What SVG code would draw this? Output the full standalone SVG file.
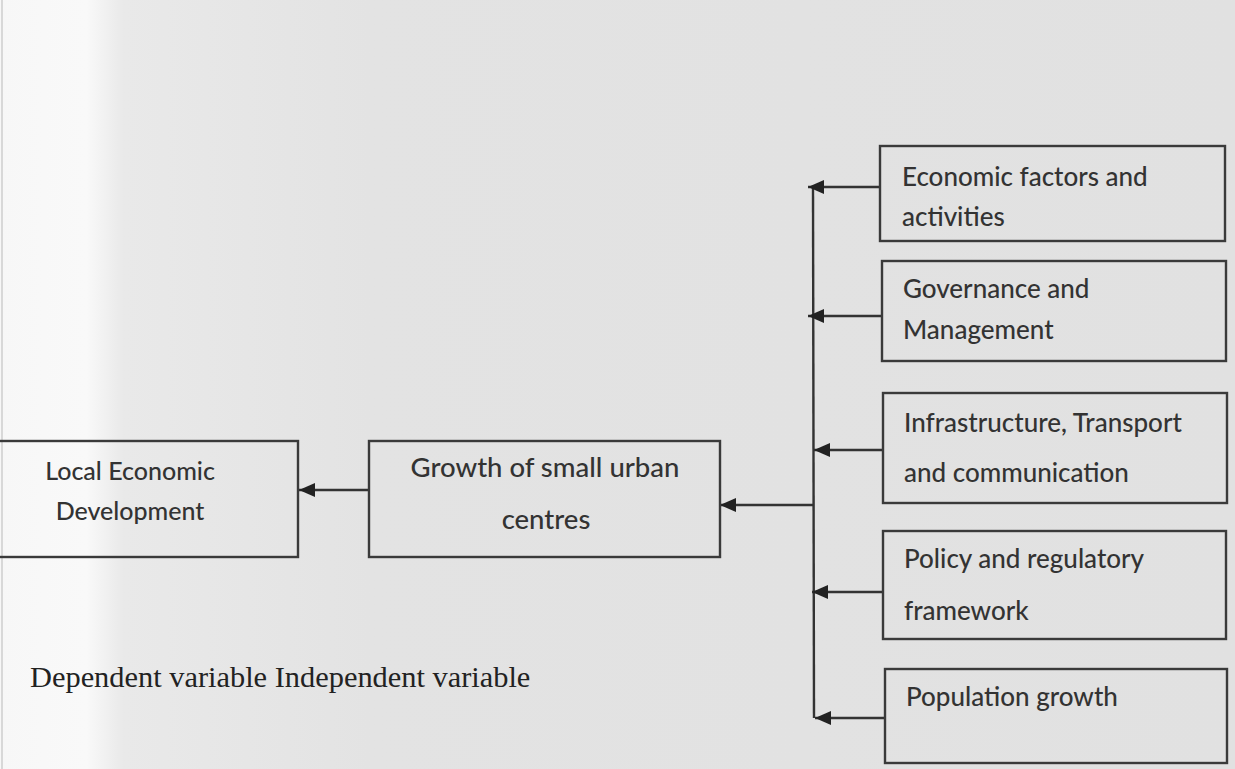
<svg xmlns="http://www.w3.org/2000/svg" width="1235" height="769" viewBox="0 0 1235 769">
<defs>
<linearGradient id="bg" x1="0" y1="0" x2="1235" y2="0" gradientUnits="userSpaceOnUse">
<stop offset="0" stop-color="#f7f7f7"/>
<stop offset="0.07" stop-color="#f9f9f9"/>
<stop offset="0.1" stop-color="#e9e9e9"/>
<stop offset="0.3" stop-color="#e3e3e3"/>
<stop offset="1" stop-color="#e1e1e1"/>
</linearGradient>
<marker id="ah" markerWidth="16" markerHeight="14" refX="16" refY="7" orient="auto" markerUnits="userSpaceOnUse">
<path d="M0,0 L16,7 L0,14 Z" fill="#222"/>
</marker>
<style>
.box{fill:none;stroke:#3a3a3a;stroke-width:2.4}
.lbl{font-family:Lato,"Open Sans","Liberation Sans",sans-serif;font-size:26px;font-weight:500;fill:#333}
.con{fill:none;stroke:#333;stroke-width:2.4}
.cap{font-family:"Liberation Serif","Times New Roman",serif;font-size:30.4px;fill:#222}
</style>
</defs>
<rect x="0" y="0" width="1235" height="769" fill="url(#bg)"/>
<line x1="2" y1="0" x2="2" y2="769" stroke="#d8d8d8" stroke-width="2"/>

<g id="connectors">
<line class="con" x1="813" y1="186" x2="814" y2="718"/>
<line class="con" x1="880" y1="187" x2="808" y2="187" marker-end="url(#ah)"/>
<line class="con" x1="882" y1="316" x2="808" y2="316" marker-end="url(#ah)"/>
<line class="con" x1="883" y1="450" x2="814" y2="450" marker-end="url(#ah)"/>
<line class="con" x1="883" y1="592" x2="812" y2="592" marker-end="url(#ah)"/>
<line class="con" x1="885" y1="718" x2="815" y2="718" marker-end="url(#ah)"/>
<line class="con" x1="813" y1="505" x2="720" y2="505" marker-end="url(#ah)"/>
<line class="con" x1="369" y1="490" x2="299" y2="490" marker-end="url(#ah)"/>
</g>

<g id="node-economic">
<rect class="box" x="880" y="146" width="345" height="95"/>
<text class="lbl" x="902" y="186">Economic factors and</text>
<text class="lbl" x="902" y="226">activities</text>
</g>
<g id="node-governance">
<rect class="box" x="882" y="261" width="344" height="100"/>
<text class="lbl" x="903" y="298">Governance and</text>
<text class="lbl" x="903" y="339">Management</text>
</g>
<g id="node-infrastructure">
<rect class="box" x="883" y="393" width="344" height="110"/>
<text class="lbl" x="904" y="432">Infrastructure, Transport</text>
<text class="lbl" x="904" y="482">and communication</text>
</g>
<g id="node-policy">
<rect class="box" x="883" y="531" width="343" height="108"/>
<text class="lbl" x="904" y="568">Policy and regulatory</text>
<text class="lbl" x="904" y="620">framework</text>
</g>
<g id="node-population">
<rect class="box" x="885" y="669" width="342" height="94"/>
<text class="lbl" x="906" y="706">Population growth</text>
</g>
<g id="node-growth">
<rect class="box" x="369" y="441" width="351" height="116"/>
<text class="lbl" x="545" y="477" text-anchor="middle" style="font-size:27.5px">Growth of small urban</text>
<text class="lbl" x="546" y="529" text-anchor="middle" style="font-size:27.5px">centres</text>
</g>
<g id="node-led">
<rect class="box" x="-5" y="441" width="303" height="116"/>
<text class="lbl" x="130" y="480" text-anchor="middle" style="font-size:25px">Local Economic</text>
<text class="lbl" x="130" y="520" text-anchor="middle" style="font-size:25px">Development</text>
</g>
<text class="cap" x="30" y="687">Dependent variable Independent variable</text>
</svg>
